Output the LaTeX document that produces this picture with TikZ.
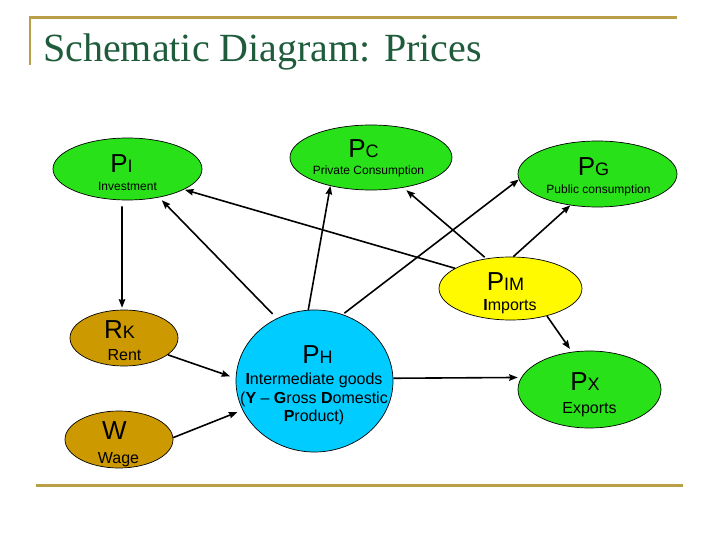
\documentclass[tikz,border=0pt]{standalone}
\usepackage{fontspec}
\setmainfont{Liberation Sans}
\newfontfamily\titlefont{Liberation Serif}
\usetikzlibrary{shapes.geometric,arrows.meta}
\definecolor{rulegold}{RGB}{185,160,70}
\definecolor{titlegreen}{RGB}{30,92,60}
\definecolor{pgreen}{RGB}{40,225,25}
\definecolor{pgold}{RGB}{204,153,0}
\definecolor{pcyan}{RGB}{0,204,255}
\definecolor{pyellow}{RGB}{255,250,0}
\newcommand\pbig[2]{{\fontsize{26bp}{26bp}\selectfont #1}{\fontsize{18bp}{18bp}\selectfont #2}}
\tikzset{
  blob/.style={ellipse, draw=black, line width=0.7bp, inner sep=0pt},
  txt/.style={anchor=base, inner sep=0pt, text=black},
  small/.style={txt, font=\fontsize{12bp}{14bp}\selectfont},
  mid/.style={txt, font=\fontsize{16bp}{18bp}\selectfont},
  arr/.style={line width=1.6bp, -{Stealth[length=8.5bp,width=6.5bp,inset=1bp]}},
}
\begin{document}
\begin{tikzpicture}[x=1bp,y=-1bp]
\useasboundingbox (0,0) rectangle (720,540);
% rules
\draw[rulegold, line width=2.2bp] (30,65) -- (30,17.5) -- (677,17.5);
\draw[rulegold, line width=2.5bp] (36,485.5) -- (683,485.5);
\node[anchor=base west, inner sep=0pt, text=titlegreen, font=\titlefont\fontsize{40bp}{44bp}\selectfont] (title) at (43,62) {Schematic Diagram: Prices};
% ellipses
\node[blob, fill=pgreen, minimum width=149bp, minimum height=62bp] (PI) at (127.5,169) {};
\node[blob, fill=pgreen, minimum width=162bp, minimum height=65bp] (PC) at (371,157.5) {};
\node[blob, fill=pgreen, minimum width=159bp, minimum height=66bp] (PG) at (597.5,174) {};
\node[blob, fill=pyellow, minimum width=143bp, minimum height=63bp] (PIM) at (510.5,288.5) {};
\node[blob, fill=pgreen, minimum width=143bp, minimum height=77bp] (PX) at (589.5,389.5) {};
\node[blob, fill=pgold, minimum width=108bp, minimum height=56bp] (RK) at (124,338) {};
\node[blob, fill=pgold, minimum width=108bp, minimum height=57bp] (W) at (119,439.5) {};
\node[blob, fill=pcyan, minimum width=157bp, minimum height=142bp] (PH) at (314.5,381) {};
% texts
\node[txt] (tPI) at (121.5,172.7) {\pbig{P}{I}};
\node[small] (lPI) at (127.5,191) {Investment};
\node[txt] (tPC) at (363.5,158) {\pbig{P}{C}};
\node[small] (lPC) at (368.5,175) {Private Consumption};
\node[txt] (tPG) at (593.5,176) {\pbig{P}{G}};
\node[small] (lPG) at (598.5,194) {Public consumption};
\node[txt] (tPIM) at (505.5,290) {\pbig{P}{IM}};
\node[mid] (lPIM) at (510,310) {\textbf{I}mports};
\node[txt] (tPX) at (585,390) {\pbig{P}{X}};
\node[mid] (lPX) at (589.5,413) {Exports};
\node[txt] (tRK) at (119.5,338) {\pbig{R}{K}};
\node[mid] (lRK) at (124.5,360) {Rent};
\node[txt] (tW) at (114.5,439) {\pbig{W}{}};
\node[mid] (lW) at (118.5,463) {Wage};
\node[txt] (tPH) at (317.5,363) {\pbig{P}{H}};
\node[mid] (lPH1) at (314,384) {\textbf{I}ntermediate goods};
\node[mid] (lPH2) at (314,403) {(\textbf{Y} – \textbf{G}ross \textbf{D}omestic};
\node[mid] (lPH3) at (314,421) {\textbf{P}roduct)};
% connectors
\draw[arr, shorten <=6bp, shorten >=2bp] (PI.-100) -- (RK.94);
\draw[arr, shorten <=6bp, shorten >=4bp] (PH.121) -- (PI.-42);
\draw[arr] (PH.95) -- (PC.-145);
\draw[arr, shorten <=2bp] (PH.67) -- (PG.-176);
\draw[arr, shorten >=1bp] (PIM.160.6) -- (PI.-20.4);
\draw[arr, shorten <=2bp, shorten >=4bp] (PIM.129) -- (PC.-43);
\draw[arr] (PIM.85.5) -- (PG.-131.6);
\draw[arr, shorten >=3.5bp] (PIM.-37) -- (PX.115.7);
\draw[arr, shorten >=3.5bp] (PH.2.2) -- (PX.170);
\draw[arr, shorten >=6bp] (RK.-21) -- (PH.178);
\draw[arr, shorten >=5.5bp] (W.2.6) -- (PH.-158.8);
\end{tikzpicture}
\end{document}
